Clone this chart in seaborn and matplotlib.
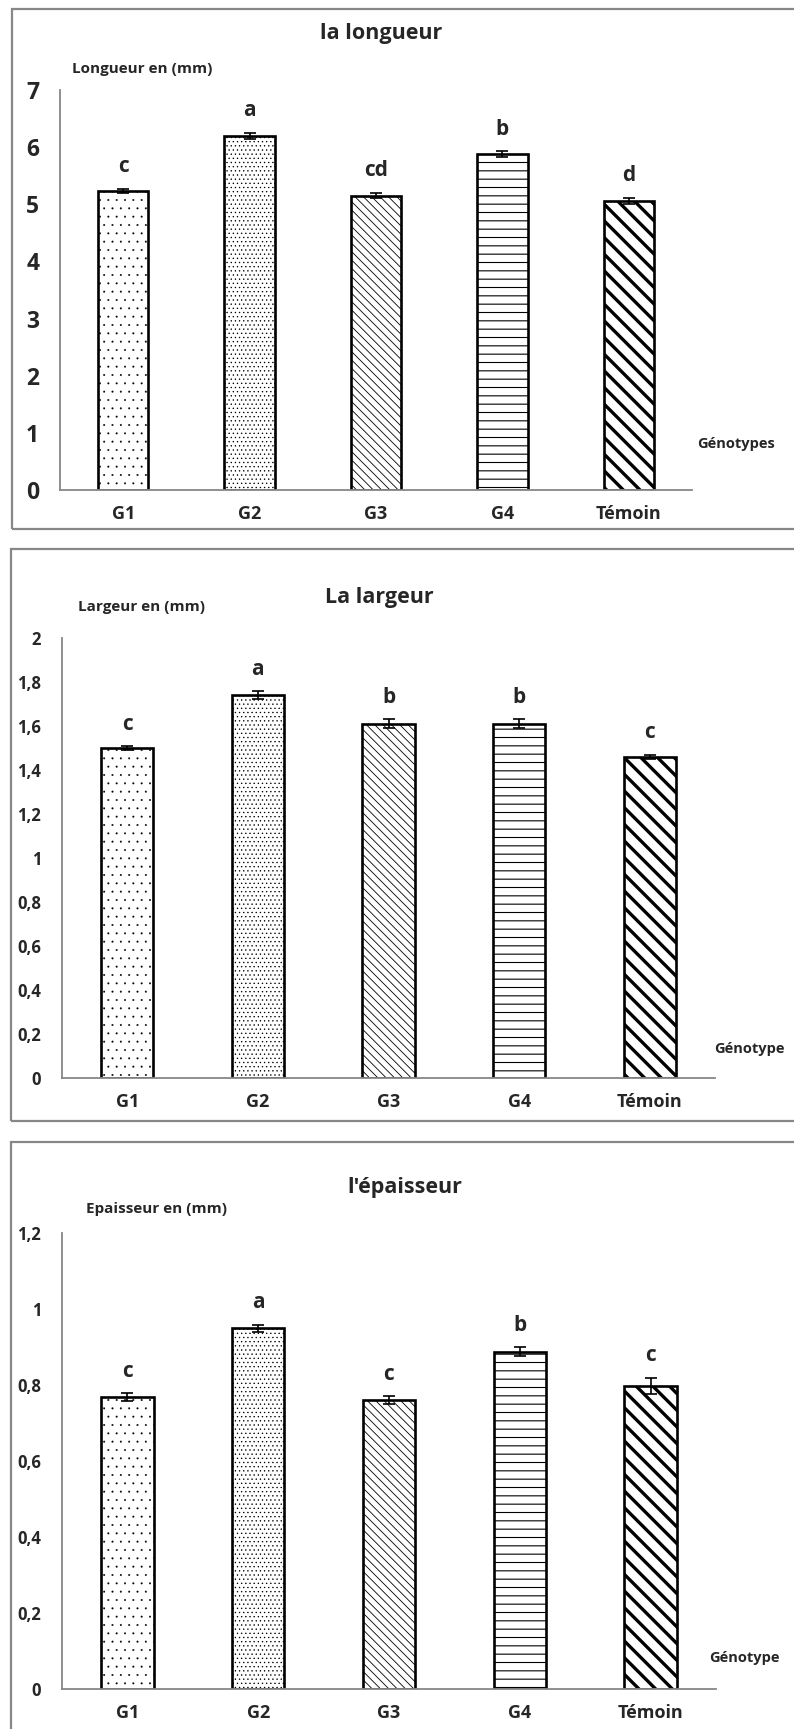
import matplotlib
matplotlib.use("Agg")
import matplotlib.pyplot as plt
from matplotlib.patches import Rectangle
import seaborn as sns

# data
genotypes = ["G1", "G2", "G3", "G4", "Témoin"]

longueur = [5.23, 6.19, 5.15, 5.88, 5.06]
longueur_err = [0.04, 0.055, 0.045, 0.045, 0.05]
longueur_lettres = ["c", "a", "cd", "b", "d"]
longueur_ticks = [0, 1, 2, 3, 4, 5, 6, 7]
longueur_ticklabels = ["0", "1", "2", "3", "4", "5", "6", "7"]

largeur = [1.50, 1.74, 1.61, 1.61, 1.46]
largeur_err = [0.008, 0.018, 0.02, 0.02, 0.01]
largeur_lettres = ["c", "a", "b", "b", "c"]
largeur_ticks = [0, 0.2, 0.4, 0.6, 0.8, 1.0, 1.2, 1.4, 1.6, 1.8, 2.0]
largeur_ticklabels = ["0", "0,2", "0,4", "0,6", "0,8", "1", "1,2", "1,4", "1,6", "1,8", "2"]

epaisseur = [0.768, 0.949, 0.760, 0.888, 0.798]
epaisseur_err = [0.01, 0.01, 0.01, 0.011, 0.021]
epaisseur_lettres = ["c", "a", "c", "b", "c"]
epaisseur_ticks = [0, 0.2, 0.4, 0.6, 0.8, 1.0, 1.2]
epaisseur_ticklabels = ["0", "0,2", "0,4", "0,6", "0,8", "1", "1,2"]

hatches = ["..", "....", "\\\\\\\\", "--", "\\\\"]
hatch_lw = [0.2, 0.45, 0.6, 0.8, 2.4]

W, H = 794, 1729
sns.set_style("white")
plt.rcParams["font.family"] = ["Open Sans", "DejaVu Sans"]
plt.rcParams["font.weight"] = "bold"

fig = plt.figure(figsize=(W / 100, H / 100), dpi=100)

GREY = "#878787"

panels = [
    dict(vals=longueur, err=longueur_err, let=longueur_lettres,
         ticks=longueur_ticks, ticklabels=longueur_ticklabels,
         title="la longueur", ylab="Longueur en (mm)", xlab="Génotypes",
         ax=(60, 692, 490, 90), box=(12, 9, 529), title_xy=(381, 33),
         ylab_xy=(72, 69), xlab_xy=(697, 444), ytick_fs=16.5, xtick_fs=13),
    dict(vals=largeur, err=largeur_err, let=largeur_lettres,
         ticks=largeur_ticks, ticklabels=largeur_ticklabels,
         title="La largeur", ylab="Largeur en (mm)", xlab="Génotype",
         ax=(62, 715, 1078, 638), box=(11, 549, 1121), title_xy=(379, 597),
         ylab_xy=(78, 607), xlab_xy=(714, 1049), ytick_fs=12, xtick_fs=13),
    dict(vals=epaisseur, err=epaisseur_err, let=epaisseur_lettres,
         ticks=epaisseur_ticks, ticklabels=epaisseur_ticklabels,
         title="l'épaisseur", ylab="Epaisseur en (mm)", xlab="Génotype",
         ax=(62, 716, 1689, 1233), box=(11, 1142, 1745), title_xy=(405, 1188),
         ylab_xy=(86, 1209), xlab_xy=(709, 1658), ytick_fs=12, xtick_fs=13),
]

for p in panels:
    # panel frame (Excel chart area), runs off the right edge
    x0, y0, y1 = p["box"]
    fig.patches.append(Rectangle((x0 / W, 1 - y1 / H), (W + 20 - x0) / W, (y1 - y0) / H,
                                 transform=fig.transFigure, fill=False,
                                 edgecolor=GREY, linewidth=1.6, clip_on=False))

    left, right, bottom, top = p["ax"]
    ax = fig.add_axes([left / W, 1 - bottom / H, (right - left) / W, (bottom - top) / H])
    sns.barplot(x=genotypes, y=p["vals"], ax=ax, color="white", edgecolor="black",
                linewidth=1.9, width=0.4, errorbar=None, saturation=1)
    for bar, h, lw in zip(ax.patches, hatches, hatch_lw):
        bar.set_hatch(h)
        if hasattr(bar, "set_hatch_linewidth"):
            bar.set_hatch_linewidth(lw)
    ax.errorbar(range(len(genotypes)), p["vals"], yerr=p["err"], fmt="none",
                ecolor="black", elinewidth=1.2, capsize=4, capthick=1.2, zorder=5)
    for i, (v, e, l) in enumerate(zip(p["vals"], p["err"], p["let"])):
        ax.annotate(l, (i, v + e), xytext=(0, 16), textcoords="offset points",
                    ha="center", va="center", fontsize=15, fontweight="bold")

    ax.set_ylim(p["ticks"][0], p["ticks"][-1])
    ax.set_xlim(-0.5, len(genotypes) - 0.5)
    ax.set_yticks(p["ticks"])
    ax.set_yticklabels(p["ticklabels"], fontsize=p["ytick_fs"], fontweight="bold")
    ax.set_xticks(range(len(genotypes)))
    ax.set_xticklabels(genotypes, fontsize=p["xtick_fs"], fontweight="bold")
    ax.set_xticks([i - 0.5 for i in range(len(genotypes) + 1)], minor=True)
    ax.tick_params(axis="x", which="major", length=0, pad=11)
    ax.tick_params(axis="x", which="minor", length=7, width=1.2, color=GREY, direction="out")
    ax.tick_params(axis="y", which="major", length=5, width=1.2, color=GREY, direction="out", pad=10)
    for s in ["top", "right"]:
        ax.spines[s].set_visible(False)
    for s in ["left", "bottom"]:
        ax.spines[s].set_color(GREY)
        ax.spines[s].set_linewidth(1.3)
    ax.set_xlabel("")
    ax.set_ylabel("")
    ax.set_facecolor("none")

    tx, ty = p["title_xy"]
    fig.text(tx / W, 1 - ty / H, p["title"], ha="center", va="center",
             fontsize=15.5, fontweight="bold")
    lx, ly = p["ylab_xy"]
    fig.text(lx / W, 1 - ly / H, p["ylab"], ha="left", va="center",
             fontsize=11, fontweight="bold")
    gx, gy = p["xlab_xy"]
    fig.text(gx / W, 1 - gy / H, p["xlab"], ha="left", va="center",
             fontsize=10.5, fontweight="bold")

fig.savefig("out.png", dpi=100, facecolor="white")
